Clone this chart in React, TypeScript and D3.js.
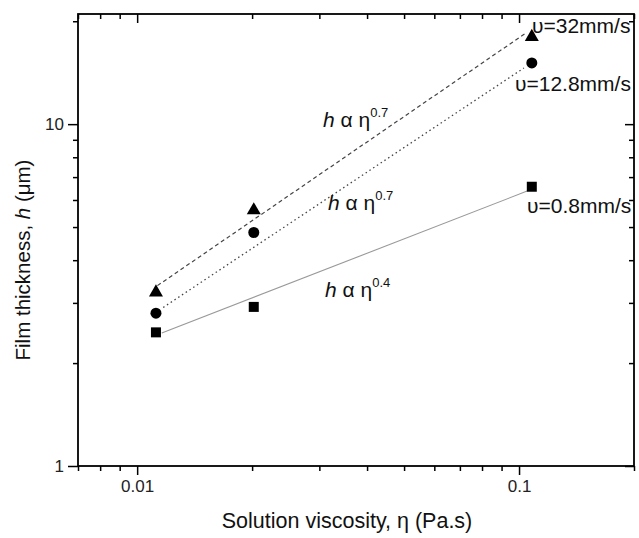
import { useEffect, useRef } from 'react';
import * as d3 from 'd3';

// viscosity (Pa.s) for the three solutions
const viscosity = [0.0112, 0.0202, 0.108];
// film thickness (um) per withdrawal speed
const h08 = [2.46, 2.92, 6.56];
const h128 = [2.8, 4.82, 15.1];
const h32 = [3.22, 5.6, 18.0];

// fitted power-law lines, read as end points [x0, x1], [y0, y1]
const fitX08 = [0.0116, 0.105];
const fitY08 = [2.45, 6.37];
const fitX128 = [0.0117, 0.103];
const fitY128 = [2.91, 14.6];
const fitX32 = [0.0113, 0.1037];
const fitY32 = [3.37, 18.4];

const xMajor = [0.01, 0.1];
const xMinor = [0.007, 0.008, 0.009, 0.02, 0.03, 0.04, 0.05, 0.06, 0.07, 0.08, 0.09, 0.2];
const yMajor = [1, 10];
const yMinor = [2, 3, 4, 5, 6, 7, 8, 9, 20];

const W = 639;
const H = 538;
const FONT = '"Liberation Sans", Arial, sans-serif';

export default function App() {
  const svgRef = useRef<SVGSVGElement | null>(null);

  useEffect(() => {
    if (!svgRef.current) return;
    const root = d3.select(svgRef.current);
    root.selectAll('*').remove();

    const left = 78, right = 634, top = 14, bottom = 466;
    const x = d3.scaleLog().domain([0.007, 0.2]).range([left, right]);
    const y = d3.scaleLog().domain([1, 21]).range([bottom, top]);

    const svg = root.append('g');

    const fmtX = (d: any) => (d === 0.01 ? '0.01' : '0.1');
    const fmtY = (d: any) => String(d);

    // axes: bottom/left outward, top/right inward
    const addAxis = (axis: any, transform: string, labels: boolean) => {
      const g = svg.append('g').attr('transform', transform).call(axis);
      g.select('.domain').remove();
      g.selectAll('line').attr('stroke', '#000').attr('stroke-width', 1.5);
      g.selectAll('text').style('font-family', FONT).style('font-size', '17px').attr('fill', '#222');
      if (!labels) g.selectAll('text').remove();
      return g;
    };

    addAxis(d3.axisBottom(x).tickValues(xMajor).tickSize(9).tickPadding(5).tickFormat(fmtX), `translate(0,${bottom})`, true);
    addAxis(d3.axisBottom(x).tickValues(xMinor).tickSize(5), `translate(0,${bottom})`, false);
    addAxis(d3.axisTop(x).tickValues(xMajor).tickSize(-9), `translate(0,${top})`, false);
    addAxis(d3.axisTop(x).tickValues(xMinor).tickSize(-5), `translate(0,${top})`, false);
    addAxis(d3.axisLeft(y).tickValues(yMajor).tickSize(10).tickPadding(4).tickFormat(fmtY), `translate(${left},0)`, true);
    addAxis(d3.axisLeft(y).tickValues(yMinor).tickSize(5), `translate(${left},0)`, false);
    addAxis(d3.axisRight(y).tickValues(yMajor).tickSize(-9), `translate(${right},0)`, false);
    addAxis(d3.axisRight(y).tickValues(yMinor).tickSize(-5), `translate(${right},0)`, false);

    svg.append('rect')
      .attr('x', left).attr('y', top)
      .attr('width', right - left).attr('height', bottom - top)
      .attr('fill', 'none').attr('stroke', '#000').attr('stroke-width', 1.8);

    // fit lines
    const line = d3.line<[number, number]>().x(d => x(d[0])).y(d => y(d[1]));
    const fits = [
      { xs: fitX08, ys: fitY08, color: '#999', dash: null, w: 1.1 },
      { xs: fitX128, ys: fitY128, color: '#444', dash: '1.5,3', w: 1.3 },
      { xs: fitX32, ys: fitY32, color: '#444', dash: '4,3', w: 1.2 },
    ];
    fits.forEach(f => {
      const p = svg.append('path')
        .datum(f.xs.map((v, i) => [v, f.ys[i]] as [number, number]))
        .attr('d', line)
        .attr('fill', 'none')
        .attr('stroke', f.color)
        .attr('stroke-width', f.w);
      if (f.dash) p.attr('stroke-dasharray', f.dash);
    });

    // markers
    const series = [
      { vals: h08, sym: d3.symbolSquare, size: 100 },
      { vals: h128, sym: d3.symbolCircle, size: 95 },
      { vals: h32, sym: d3.symbolTriangle, size: 85 },
    ];
    series.forEach(s => {
      svg.append('g').selectAll('path')
        .data(s.vals)
        .join('path')
        .attr('transform', (d, i) => `translate(${x(viscosity[i])},${y(d)})`)
        .attr('d', d3.symbol(s.sym, s.size)() as string)
        .attr('fill', '#000');
    });

    // speed labels
    const speed = [
      { t: 'υ=32mm/s', x: 532, y: 33 },
      { t: 'υ=12.8mm/s', x: 515, y: 91 },
      { t: 'υ=0.8mm/s', x: 527, y: 213 },
    ];
    svg.append('g').selectAll('text')
      .data(speed)
      .join('text')
      .attr('x', d => d.x).attr('y', d => d.y)
      .style('font-family', FONT).style('font-size', '21px').attr('fill', '#111')
      .text(d => d.t);

    // power-law annotations
    const laws = [
      { e: '0.7', x: 323, y: 127 },
      { e: '0.7', x: 328, y: 210 },
      { e: '0.4', x: 325, y: 297 },
    ];
    laws.forEach(l => {
      const t = svg.append('text').attr('x', l.x).attr('y', l.y)
        .style('font-family', FONT).style('font-size', '21px').attr('fill', '#111');
      t.append('tspan').style('font-style', 'italic').text('h');
      t.append('tspan').text(' α η');
      t.append('tspan').attr('dy', -10).style('font-size', '13px').text(l.e);
    });

    // axis titles
    svg.append('text')
      .attr('x', 347).attr('y', 528)
      .attr('text-anchor', 'middle')
      .style('font-family', FONT).style('font-size', '21.5px').attr('fill', '#111')
      .text('Solution viscosity, η (Pa.s)');

    const yt = svg.append('text')
      .attr('transform', 'translate(30,260) rotate(-90)')
      .attr('text-anchor', 'middle')
      .style('font-family', FONT).style('font-size', '20.5px').attr('fill', '#111');
    yt.append('tspan').text('Film thickness, ');
    yt.append('tspan').style('font-style', 'italic').text('h');
    yt.append('tspan').text(' (μm)');
  }, []);

  return (
    <svg
      ref={svgRef}
      width={W}
      height={H}
      style={{ position: 'absolute', left: 0, top: 0, background: '#fff' }}
    />
  );
}
